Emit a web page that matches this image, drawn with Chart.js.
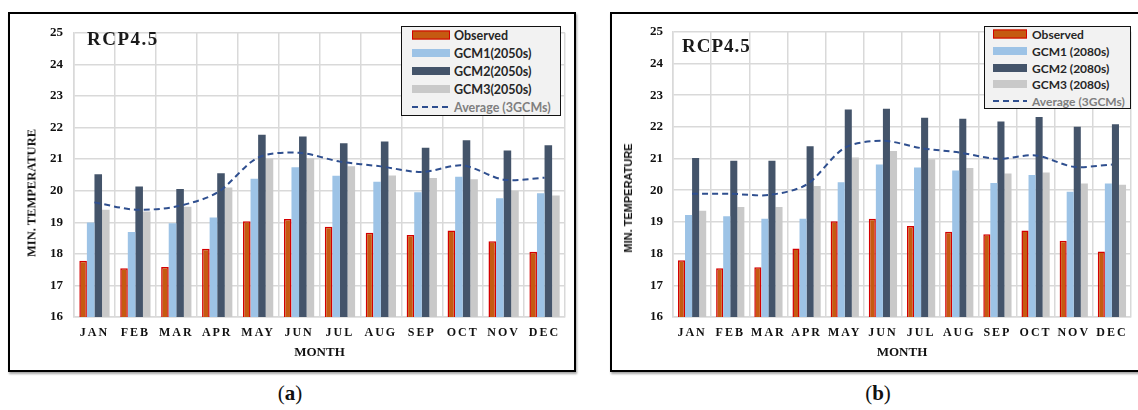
<!DOCTYPE html>
<html>
<head>
<meta charset="utf-8">
<script src="https://cdn.jsdelivr.net/npm/chart.js@4.4.0/dist/chart.umd.min.js"></script>
<style>
body { margin:0; width:1138px; height:410px; background:#fff; position:relative; overflow:hidden; font-family:'Liberation Serif', serif; }
.panel { position:absolute; top:12px; height:360px; border:2px solid #000; box-sizing:border-box; box-shadow:1px 2px 2px rgba(0,0,0,.35); background:#fff; }
#panelA { left:8px; width:568px; }
#panelB { left:610px; width:560px; }
canvas { position:absolute; }
.rcp { position:absolute; font-weight:bold; font-size:19px; letter-spacing:1.5px; color:#1a1a1a; line-height:1; transform:translateY(-50%); }
.ytitle { position:absolute; white-space:nowrap; font-weight:bold; color:#111; transform:translate(-50%,-50%) rotate(-90deg); }
.legend { position:absolute; background:#f2f2f2; border:1.5px solid #111; box-sizing:border-box; font-family:Lato, 'Open Sans', sans-serif; font-weight:bold; color:#262626; }
.legend .sw, .legend .tx { position:absolute; transform:translateY(-50%); white-space:nowrap; }
.caption { position:absolute; top:393px; font-size:21px; color:#111; transform:translate(-50%,-50%); }
</style>
</head>
<body>
<div class="panel" id="panelA"></div>
<div class="panel" id="panelB"></div>
<canvas id="chartA" width="564" height="356" style="left:10px;top:14px"></canvas>
<canvas id="chartB" width="526" height="356" style="left:612px;top:14px"></canvas>
<div class="rcp" style="left:87px;top:38px">RCP4.5</div>
<div class="rcp" style="left:682px;top:45px;letter-spacing:1px">RCP4.5</div>
<div class="ytitle" style="left:32px;top:193px;font-size:12.5px;font-family:'Liberation Serif'">MIN. TEMPERATURE</div>
<div class="ytitle" style="left:628px;top:198px;font-size:11px;font-family:'Liberation Sans'">MIN. TEMPERATURE</div>
<div class="legend" id="legA" style="left:401px;top:26px;width:160px;height:90px"></div>
<div class="legend" id="legB" style="left:984px;top:26px;width:147px;height:83px"></div>
<div class="caption" style="left:290px">(<b>a</b>)</div>
<div class="caption" style="left:878px">(<b>b</b>)</div>
<script>
var months = ['JAN', 'FEB', 'MAR', 'APR', 'MAY', 'JUN', 'JUL', 'AUG', 'SEP', 'OCT', 'NOV', 'DEC'];

// (a) 2050s
var labels2050 = ['Observed', 'GCM1(2050s)', 'GCM2(2050s)', 'GCM3(2050s)', 'Average (3GCMs)'];
var obs2050  = [17.78, 17.54, 17.58, 18.16, 19.03, 19.10, 18.86, 18.67, 18.60, 18.74, 18.40, 18.07];
var gcm1_2050 = [18.99, 18.69, 18.97, 19.15, 20.38, 20.74, 20.47, 20.28, 19.95, 20.44, 19.76, 19.92];
var gcm2_2050 = [20.52, 20.13, 20.05, 20.55, 21.77, 21.72, 21.50, 21.56, 21.36, 21.60, 21.27, 21.44];
var gcm3_2050 = [19.40, 19.34, 19.49, 20.10, 21.02, 21.03, 20.77, 20.48, 20.40, 20.36, 20.00, 19.85];
var avg2050  = [19.63, 19.40, 19.50, 19.94, 21.05, 21.20, 20.92, 20.77, 20.59, 20.80, 20.35, 20.41];

// (b) 2080s
var labels2080 = ['Observed', 'GCM1 (2080s)', 'GCM2 (2080s)', 'GCM3 (2080s)', 'Average (3GCMs)'];
var obs2080  = [17.79, 17.54, 17.57, 18.16, 19.02, 19.10, 18.87, 18.69, 18.61, 18.73, 18.41, 18.07];
var gcm1_2080 = [19.22, 19.18, 19.10, 19.10, 20.25, 20.81, 20.72, 20.62, 20.23, 20.48, 19.95, 20.21];
var gcm2_2080 = [21.02, 20.93, 20.93, 21.39, 22.55, 22.57, 22.29, 22.26, 22.17, 22.31, 22.00, 22.08];
var gcm3_2080 = [19.35, 19.47, 19.47, 20.13, 21.03, 21.24, 20.98, 20.70, 20.53, 20.56, 20.21, 20.17];
var avg2080  = [19.89, 19.89, 19.85, 20.18, 21.34, 21.56, 21.33, 21.19, 20.99, 21.10, 20.74, 20.81];

var yMin = 16, yMax = 25;

var colors = {
	obs: '#c55a11',
	obsEdge: '#d40000',
	gcm1: '#9dc3e6',
	gcm2: '#44546a',
	gcm3: '#c9c9c9',
	avg: '#2f4f8f',
	grid: '#d9d9d9'
};

// spaced out month labels, like the original
var spacedTicks = {
	id: 'spacedTicks',
	afterLayout: function(chart) {
		var xs = chart.scales.x;
		if (xs._spaced) return;
		var orig = xs.drawLabels;
		xs.drawLabels = function(area) {
			var ctx = this.ctx;
			ctx.save();
			ctx.letterSpacing = '2px';
			orig.call(this, area);
			ctx.restore();
		};
		xs._spaced = true;
	}
};

function makeDatasets(names, obs, g1, g2, g3, avg) {
	return [
		{ type: 'line', label: names[4], data: avg, borderColor: colors.avg, borderWidth: 2,
		  borderDash: [6, 4], pointRadius: 0, tension: 0.3, fill: false, order: 0 },
		{ label: names[0], data: obs, backgroundColor: colors.obs, borderColor: colors.obsEdge, borderWidth: 1.5, order: 1 },
		{ label: names[1], data: g1, backgroundColor: colors.gcm1, order: 1 },
		{ label: names[2], data: g2, backgroundColor: colors.gcm2, order: 1 },
		{ label: names[3], data: g3, backgroundColor: colors.gcm3, order: 1 }
	];
}

function makeChart(id, datasets, yWidth, tickPad, padRight) {
	return new Chart(document.getElementById(id), {
		type: 'bar',
		data: { labels: months, datasets: datasets },
		options: {
			responsive: false,
			animation: false,
			devicePixelRatio: 1,
			layout: { padding: { left: 0, right: padRight, top: 11, bottom: 0 } },
			datasets: { bar: { categoryPercentage: 0.74, barPercentage: 1.0 } },
			plugins: { legend: { display: false }, tooltip: { enabled: false } },
			scales: {
				x: {
					grid: { color: colors.grid, lineWidth: 1.5, drawTicks: false, offset: true },
					border: { color: colors.grid, width: 1.5 },
					ticks: { color: '#111', padding: 9, font: { family: 'Liberation Serif', weight: 'bold', size: 12 } },
					title: { display: true, text: 'MONTH', color: '#111', padding: { top: 0, bottom: 10 },
					         font: { family: 'Liberation Serif', weight: 'bold', size: 13 } },
					afterFit: function(s) { s.height = 53; }
				},
				y: {
					min: yMin, max: yMax,
					grid: { color: colors.grid, lineWidth: 1.5, drawTicks: false },
					border: { color: colors.grid, width: 1.5 },
					ticks: { stepSize: 1, color: '#111', padding: tickPad, font: { family: 'Liberation Serif', weight: 'bold', size: 13 } },
					afterFit: function(s) { s.width = yWidth; }
				}
			}
		},
		plugins: [spacedTicks]
	});
}

function buildLegend(el, chart, o) {
	var order = [1, 2, 3, 4, 0];
	order.forEach(function(idx, i) {
		var ds = chart.data.datasets[idx];
		var y = o.first + i * o.gap;
		var sw = document.createElement('div');
		sw.className = 'sw';
		sw.style.left = o.swLeft + 'px';
		sw.style.top = y + 'px';
		sw.style.width = o.swWidth + 'px';
		if (ds.type === 'line') {
			sw.style.height = '2px';
			sw.style.background = 'repeating-linear-gradient(90deg,' + ds.borderColor + ' 0 6px, transparent 6px 10px)';
		} else {
			sw.style.height = '8px';
			sw.style.background = ds.backgroundColor;
			if (ds.borderWidth) {
				sw.style.boxSizing = 'border-box';
				sw.style.height = '9px';
				sw.style.border = '1.5px solid ' + ds.borderColor;
			}
		}
		el.appendChild(sw);
		var tx = document.createElement('div');
		tx.className = 'tx';
		tx.style.left = o.txLeft + 'px';
		tx.style.top = y + 'px';
		tx.style.fontSize = o.size + 'px';
		if (ds.type === 'line') tx.style.color = '#7f7f7f';
		tx.textContent = ds.label;
		el.appendChild(tx);
	});
}

var chartA = makeChart('chartA', makeDatasets(labels2050, obs2050, gcm1_2050, gcm2_2050, gcm3_2050, avg2050), 64, 11, 9);
var chartB = makeChart('chartB', makeDatasets(labels2080, obs2080, gcm1_2080, gcm2_2080, gcm3_2080, avg2080), 61, 10, 7);

buildLegend(document.getElementById('legA'), chartA, { first: 8, gap: 18, swLeft: 10, swWidth: 38, txLeft: 52, size: 12.5 });
buildLegend(document.getElementById('legB'), chartB, { first: 7, gap: 16.8, swLeft: 8, swWidth: 34, txLeft: 47, size: 12 });
</script>
</body>
</html>
